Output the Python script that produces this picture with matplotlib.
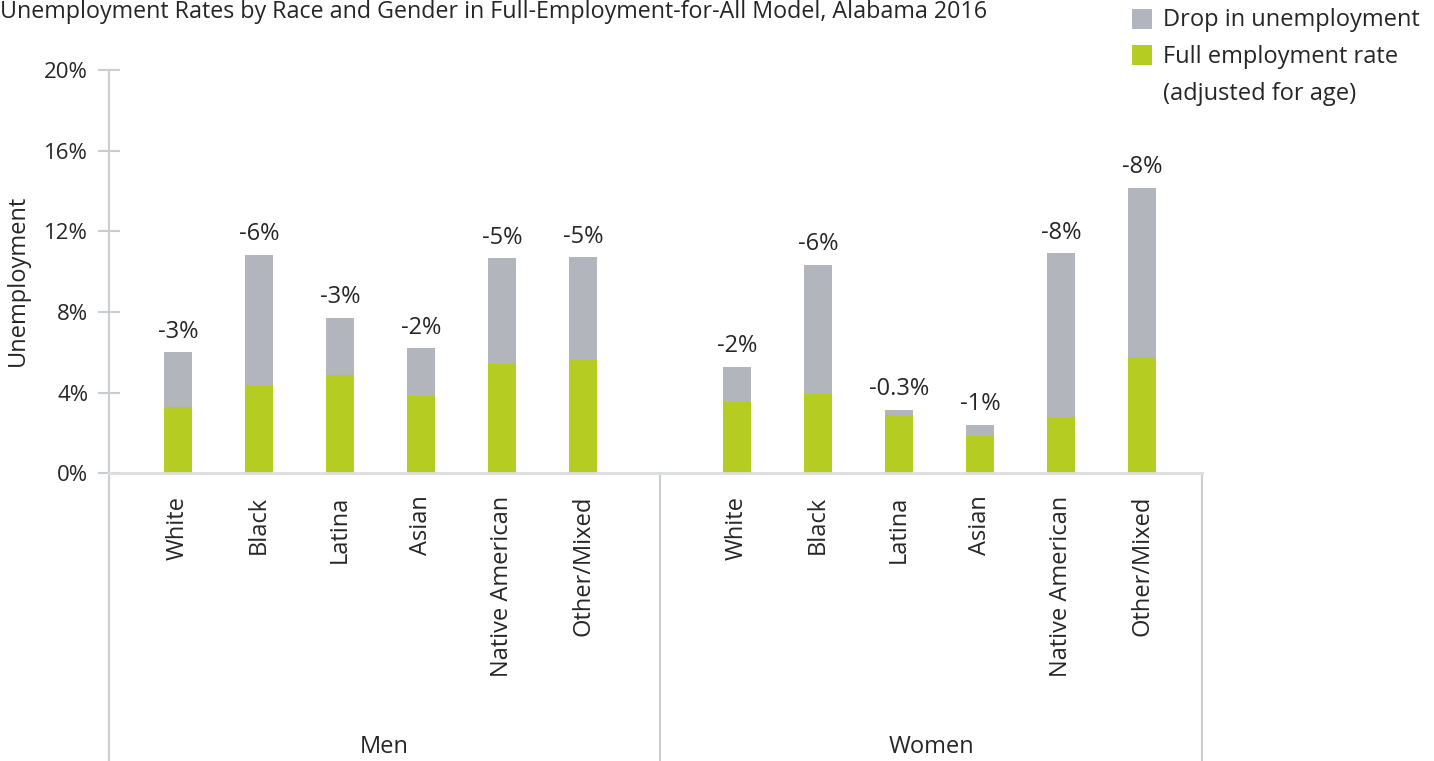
import matplotlib
matplotlib.use("Agg")
import matplotlib.pyplot as plt
import numpy as np
from matplotlib.patches import Rectangle

# ---- data ----
groups = ["Men", "Women"]
races = ["White", "Black", "Latina", "Asian", "Native American", "Other/Mixed"]
men_full = [3.27, 4.39, 4.86, 3.85, 5.40, 5.60]
men_total = [6.01, 10.83, 7.71, 6.20, 10.66, 10.71]
women_full = [3.55, 3.95, 2.88, 1.86, 2.81, 5.70]
women_total = [5.29, 10.33, 3.15, 2.41, 10.91, 14.16]
men_labels = ["-3%", "-6%", "-3%", "-2%", "-5%", "-5%"]
women_labels = ["-2%", "-6%", "-0.3%", "-1%", "-8%", "-8%"]
yticks = [0, 4, 8, 12, 16, 20]
ytick_labels = ["0%", "4%", "8%", "12%", "16%", "20%"]
legend_labels = ["Drop in unemployment", "Full employment rate", "(adjusted for age)"]

GREEN = "#b5cc23"
GREY = "#b2b6bc"
AXC = "#c9ced3"
TXT = "#262626"
FONT = "Open Sans"

plt.rcParams["font.family"] = [FONT, "DejaVu Sans"]

fig = plt.figure(figsize=(14.34, 7.61), dpi=100)
W, H = 1434, 761
x0, x1 = 109, 1202
y0, y1 = 473.3, 70
ax = fig.add_axes([x0 / W, 1 - y0 / H, (x1 - x0) / W, (y0 - y1) / H])

gap = 6.9
xm = np.arange(len(races), dtype=float)
xw = xm + gap
full = list(men_full) + list(women_full)
total = list(men_total) + list(women_total)
drop = [t - f for t, f in zip(total, full)]
labels = men_labels + women_labels
xs = np.concatenate([xm, xw])
bw = 0.352

ax.bar(xs, full, width=bw, color=GREEN, edgecolor="none", zorder=2)
ax.bar(xs, drop, bottom=full, width=bw, color=GREY, edgecolor="none", zorder=2)
for x, t, lab in zip(xs, total, labels):
    ax.annotate(lab, (x, t), xytext=(0, 10.5), textcoords="offset points",
                ha="center", va="baseline", fontsize=17, color=TXT)

ax.set_ylim(0, 20)
ax.set_xlim(-0.852, 12.64)
ax.set_yticks(yticks)
ax.set_yticklabels(ytick_labels)
ax.set_xticks(xs)
ax.set_xticklabels(races + races, rotation=90, va="top", ha="center")
ax.tick_params(axis="x", length=0, pad=16, labelsize=17, colors=TXT)
ax.tick_params(axis="y", direction="inout", length=16, width=1.5, color=AXC,
               labelsize=16, labelcolor=TXT, pad=7)

for s in ["top", "right", "left"]:
    ax.spines[s].set_visible(False)
ax.spines["bottom"].set_color("#dcdddf")
ax.spines["bottom"].set_linewidth(2)

ybot = -(H - y0 + 5) / (y0 - y1)
ax.plot([0, 0], [1, ybot], transform=ax.transAxes, color=AXC, lw=1.5, clip_on=False)
xdiv = (len(races) - 1 + gap) / 2
xd = (xdiv - ax.get_xlim()[0]) / (ax.get_xlim()[1] - ax.get_xlim()[0])
ax.plot([xd, xd], [0, ybot], transform=ax.transAxes, color=AXC, lw=1.5, clip_on=False)
ax.plot([1, 1], [0, ybot], transform=ax.transAxes, color=AXC, lw=1.5, clip_on=False)

ygrp = -(747 - y0) / (y0 - y1)
ax.text(xd / 2, ygrp, groups[0], transform=ax.transAxes, ha="center", va="center",
        fontsize=17, color=TXT)
ax.text((xd + 1) / 2, ygrp, groups[1], transform=ax.transAxes, ha="center", va="center",
        fontsize=17, color=TXT)

ax.set_ylabel("Unemployment", fontsize=17, color=TXT, va="center", ha="center")
ax.yaxis.set_label_coords((18 - x0) / (x1 - x0), (y0 - 280) / (y0 - y1))

fig.text(0.0, 1 - 18 / H, "Unemployment Rates by Race and Gender in Full-Employment-for-All Model, Alabama 2016",
         ha="left", va="baseline", fontsize=16.75, color=TXT)

# legend (manual, figure pixel layout)
for yc, col in [(19, GREY), (55, GREEN)]:
    fig.patches.append(Rectangle((1132 / W, 1 - (yc + 10) / H), 20 / W, 20 / H,
                                 transform=fig.transFigure, facecolor=col, edgecolor="none"))
for yc, lab in zip([20, 57, 94], legend_labels):
    fig.text(1163 / W, 1 - yc / H, lab, ha="left", va="center", fontsize=17, color=TXT)

fig.savefig("out.png", dpi=100)
